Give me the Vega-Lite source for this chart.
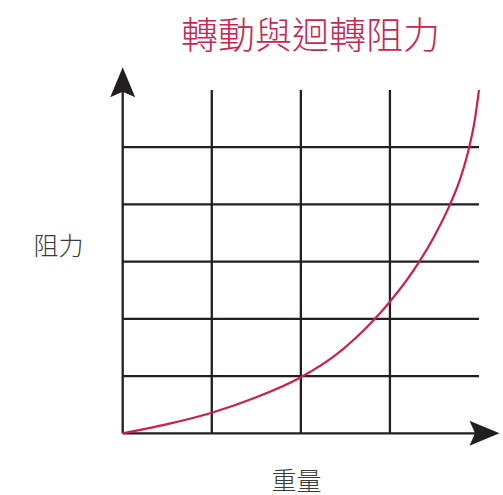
{
  "$schema": "https://vega.github.io/schema/vega-lite/v6.json",
  "autosize": "none",
  "width": 356.3,
  "height": 343.3,
  "padding": {"left": 122.7, "top": 90, "right": 24, "bottom": 61.7},
  "background": "white",
  "title": {
    "text": "轉動與迴轉阻力",
    "frame": "group",
    "anchor": "middle",
    "dx": 9.7,
    "dy": 42,
    "baseline": "bottom",
    "offset": 15,
    "font": "Noto Sans CJK TC",
    "fontWeight": 300,
    "fontSize": 37,
    "color": "#c8264f"
  },
  "config": {
    "view": {"stroke": null},
    "axis": {"domain": false, "ticks": false, "labels": false, "grid": false,
      "titleFont": "Noto Sans CJK TC", "titleFontWeight": 300, "titleFontSize": 25, "titleColor": "#3a3a3a",
      "titleAlign": "center", "titleBaseline": "middle"},
    "axisX": {"titleX": 173.3, "titleY": 48.2},
    "axisY": {"titleAngle": 0, "titleX": -64.7, "titleY": 156.5}
  },
  "layer": [
    {
      "data": {"values": [{"x": 1}, {"x": 2}, {"x": 3}]},
      "mark": {"type": "rule", "color": "#231f20", "strokeWidth": 2.3},
      "encoding": {
        "x": {"field": "x", "type": "quantitative", "title": "重量", "scale": {"domain": [0, 4], "nice": false, "zero": false}},
        "y": {"datum": 0, "type": "quantitative", "title": "阻力", "scale": {"domain": [0, 6], "nice": false, "zero": false}},
        "y2": {"datum": 6}
      }
    },
    {
      "data": {"values": [{"y": 1}, {"y": 2}, {"y": 3}, {"y": 4}, {"y": 5}]},
      "mark": {"type": "rule", "color": "#231f20", "strokeWidth": 2.3},
      "encoding": {
        "y": {"field": "y", "type": "quantitative", "title": "阻力"},
        "x": {"datum": 0, "type": "quantitative", "title": "重量"},
        "x2": {"datum": 4}
      }
    },
    {
      "data": {"values": [{"axis": "y"}]},
      "mark": {"type": "rule", "color": "#231f20", "strokeWidth": 2.3},
      "encoding": {
        "x": {"datum": 0, "type": "quantitative", "title": "重量"},
        "y": {"datum": 0, "type": "quantitative", "title": "阻力"},
        "y2": {"datum": 6.3}
      }
    },
    {
      "data": {"values": [{"axis": "x"}]},
      "mark": {"type": "rule", "color": "#231f20", "strokeWidth": 2.3},
      "encoding": {
        "y": {"datum": 0, "type": "quantitative", "title": "阻力"},
        "x": {"datum": 0, "type": "quantitative", "title": "重量"},
        "x2": {"datum": 4.15}
      }
    },
    {
      "data": {"values": [{"x": 0, "y": 6.396}]},
      "mark": {"type": "point", "filled": true, "color": "#231f20", "opacity": 1, "size": 900, "shape": "M0,0L0.833,2L0,1.627L-0.833,2Z", "strokeWidth": 0},
      "encoding": {
        "x": {"field": "x", "type": "quantitative", "title": "重量"},
        "y": {"field": "y", "type": "quantitative", "title": "阻力"}
      }
    },
    {
      "data": {"values": [{"x": 4.23, "y": 0}]},
      "mark": {"type": "point", "filled": true, "color": "#231f20", "opacity": 1, "size": 900, "shape": "M0,0L-2,-0.833L-1.627,0L-2,0.833Z", "strokeWidth": 0},
      "encoding": {
        "x": {"field": "x", "type": "quantitative", "title": "重量"},
        "y": {"field": "y", "type": "quantitative", "title": "阻力"}
      }
    },
    {
      "data": {"values": [
        {"x": 0, "y": 0},
        {"x": 0.5, "y": 0.16},
        {"x": 1, "y": 0.36},
        {"x": 1.5, "y": 0.63},
        {"x": 2, "y": 0.98},
        {"x": 2.4, "y": 1.38},
        {"x": 2.8, "y": 1.95},
        {"x": 3, "y": 2.3},
        {"x": 3.33, "y": 3.0},
        {"x": 3.5, "y": 3.45},
        {"x": 3.675, "y": 4.0},
        {"x": 3.8, "y": 4.5},
        {"x": 3.89, "y": 5.0},
        {"x": 3.95, "y": 5.45},
        {"x": 4.0, "y": 6.0}
      ]},
      "mark": {"type": "line", "color": "#cc1f4e", "strokeWidth": 2.2, "interpolate": "monotone"},
      "encoding": {
        "x": {"field": "x", "type": "quantitative", "title": "重量"},
        "y": {"field": "y", "type": "quantitative", "title": "阻力"}
      }
    }
  ]
}
